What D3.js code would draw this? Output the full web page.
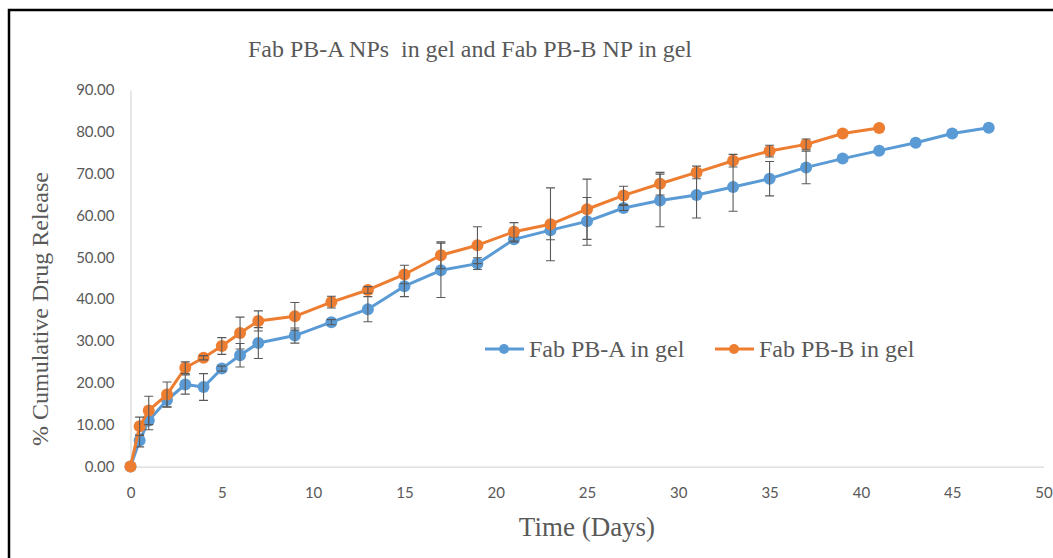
<!DOCTYPE html>
<html>
<head>
<meta charset="utf-8">
<script src="https://cdn.jsdelivr.net/npm/d3@7"></script>
<style>
  html, body { margin: 0; padding: 0; background: #fff; }
  svg { display: block; }
</style>
</head>
<body>
<svg id="chart" width="1053" height="558"></svg>
<script>
// Sampling times (days)
const daysA = [0, 0.5, 1, 2, 3, 4, 5, 6, 7, 9, 11, 13, 15, 17, 19, 21, 23, 25, 27, 29, 31, 33, 35, 37, 39, 41, 43, 45, 47];
const daysB = [0, 0.5, 1, 2, 3, 4, 5, 6, 7, 9, 11, 13, 15, 17, 19, 21, 23, 25, 27, 29, 31, 33, 35, 37, 39, 41];

// Cumulative release (%) and standard deviation
const releaseA = [0, 6.2, 11.0, 15.9, 19.6, 19.0, 23.4, 26.6, 29.5, 31.3, 34.5, 37.6, 43.1, 46.9, 48.5, 54.3, 56.5, 58.6, 61.8, 63.6, 64.9, 66.8, 68.8, 71.5, 73.6, 75.5, 77.4, 79.6, 81.0];
const sdA      = [0, 1.5, 2.2, 1.6, 2.3, 3.2, 0.6, 2.8, 3.7, 1.8, 0.6, 3.0, 2.5, 6.5, 1.4, 0.6, 2.3, 5.7, 0.6, 6.3, 5.5, 5.8, 4.1, 3.9, 0, 0, 0, 0, 0];
const releaseB = [0, 9.6, 13.4, 17.2, 23.6, 26.0, 28.8, 31.9, 34.8, 35.9, 39.3, 42.2, 45.9, 50.5, 52.9, 56.1, 57.9, 61.5, 64.8, 67.6, 70.3, 73.1, 75.4, 77.0, 79.6, 80.9];
const sdB      = [0, 2.2, 3.4, 3.0, 1.4, 0.5, 2.0, 3.8, 2.4, 3.3, 1.4, 0.8, 2.2, 3.2, 4.4, 2.2, 8.7, 7.2, 2.2, 2.7, 1.5, 1.5, 1.4, 1.3, 0, 0];

const seriesNames = ["Fab PB-A in gel", "Fab PB-B in gel"];
const seriesColors = ["#5b9bd5", "#ed7d31"];

const xTicks = [0, 5, 10, 15, 20, 25, 30, 35, 40, 45, 50];
const yTicks = [0, 10, 20, 30, 40, 50, 60, 70, 80, 90];

const chartTitle = "Fab PB-A NPs\u00a0 in gel and Fab PB-B NP in gel";
const xTitle = "Time (Days)";
const yTitle = "% Cumulative Drug Release";

const svg = d3.select("#chart");
const W = 1053, H = 558;
const serif = "'Liberation Serif', 'Times New Roman', serif";
const sans = "Lato, 'Liberation Sans', sans-serif";

// outer frame (left and top edges visible)
svg.append("path")
  .attr("d", `M9,${H} L9,10 L${W},10`)
  .attr("fill", "none")
  .attr("stroke", "#000")
  .attr("stroke-width", 2.5);

const x = d3.scaleLinear().domain([0, 50]).range([130.5, 1043.5]);
const y = d3.scaleLinear().domain([0, 90]).range([466.5, 90]);

// y axis
const yAxis = svg.append("g")
  .attr("transform", `translate(${x(0)},0)`)
  .call(d3.axisLeft(y).tickValues(yTicks).tickFormat(d3.format(".2f")).tickSize(0).tickSizeOuter(0).tickPadding(16));
// x axis
const xAxis = svg.append("g")
  .attr("transform", `translate(0,${y(0)})`)
  .call(d3.axisBottom(x).tickValues(xTicks).tickFormat(d3.format("d")).tickSize(0).tickSizeOuter(0).tickPadding(21));

[xAxis, yAxis].forEach(g => {
  g.select(".domain").attr("stroke", "#d9d9d9").attr("stroke-width", 1.25);
  g.selectAll("text").attr("fill", "#595959").style("font-family", sans).style("font-size", "15px");
});

// titles
svg.append("text")
  .attr("x", 470).attr("y", 57)
  .attr("text-anchor", "middle")
  .attr("fill", "#595959")
  .attr("textLength", 444)
  .attr("lengthAdjust", "spacingAndGlyphs")
  .style("font-family", serif).style("font-size", "23px")
  .text(chartTitle);

svg.append("text")
  .attr("x", 587).attr("y", 536)
  .attr("text-anchor", "middle")
  .attr("fill", "#595959")
  .style("font-family", serif).style("font-size", "27px")
  .text(xTitle);

svg.append("text")
  .attr("transform", "translate(48,309) rotate(-90)")
  .attr("text-anchor", "middle")
  .attr("fill", "#595959")
  .style("font-family", serif).style("font-size", "24px")
  .text(yTitle);

const series = [
  { name: seriesNames[0], color: seriesColors[0], pts: daysA.map((d, i) => ({ d, v: releaseA[i], e: sdA[i] })) },
  { name: seriesNames[1], color: seriesColors[1], pts: daysB.map((d, i) => ({ d, v: releaseB[i], e: sdB[i] })) }
];

const line = d3.line().x(p => x(p.d)).y(p => y(p.v));
const cap = 4.5;

series.forEach(s => {
  const g = svg.append("g");
  g.append("path")
    .attr("d", line(s.pts))
    .attr("fill", "none")
    .attr("stroke", s.color)
    .attr("stroke-width", 3)
    .attr("stroke-linejoin", "round");
  g.selectAll("circle").data(s.pts).join("circle")
    .attr("cx", p => x(p.d)).attr("cy", p => y(p.v))
    .attr("r", 6)
    .attr("fill", s.color);
  // standard deviation bars
  const eb = g.append("g").attr("stroke", "#595959").attr("stroke-width", 1.1).attr("fill", "none");
  eb.selectAll("path").data(s.pts.filter(p => p.e > 0)).join("path")
    .attr("d", p => {
      const cx = x(p.d), t = y(p.v + p.e), b = y(p.v - p.e);
      return `M${cx},${t}V${b}M${cx - cap},${t}H${cx + cap}M${cx - cap},${b}H${cx + cap}`;
    });
});

// legend
const legendX = [485, 715];
const legend = svg.append("g");
series.forEach((s, i) => {
  const lg = legend.append("g").attr("transform", `translate(${legendX[i]},349)`);
  lg.append("line").attr("x1", 0).attr("x2", 39).attr("y1", 0).attr("y2", 0)
    .attr("stroke", s.color).attr("stroke-width", 3);
  lg.append("circle").attr("cx", 19).attr("cy", 0).attr("r", 5).attr("fill", s.color);
  lg.append("text").attr("x", 44).attr("y", 8)
    .attr("fill", "#595959")
    .style("font-family", serif).style("font-size", "24px")
    .text(s.name);
});
</script>
</body>
</html>
